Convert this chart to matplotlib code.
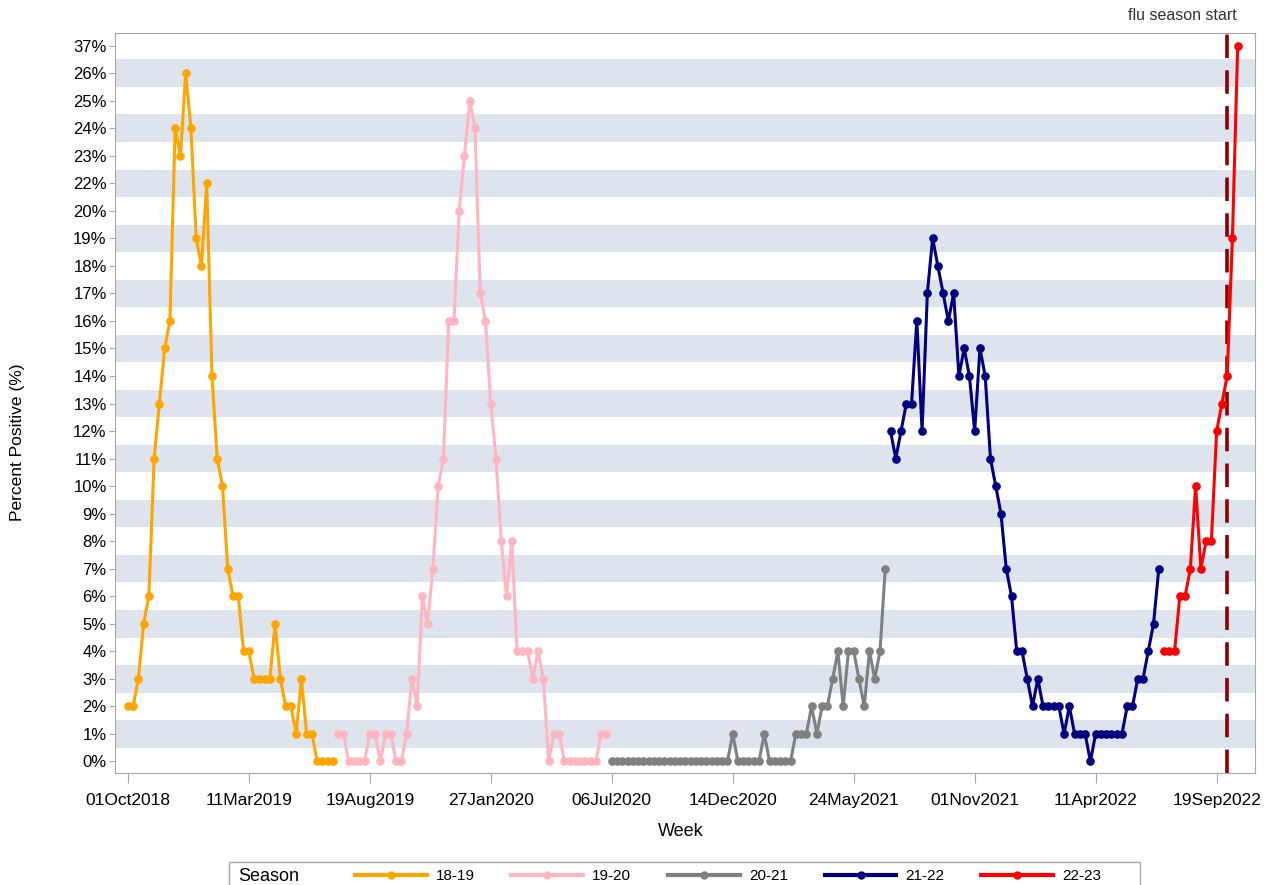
import numpy as np
import pandas as pd
import matplotlib
matplotlib.use("Agg")
import matplotlib.pyplot as plt
from matplotlib.lines import Line2D
from matplotlib.patches import Rectangle

plt.rcParams["font.family"] = ["Liberation Sans", "DejaVu Sans"]

# weekly percent positive per season; week 0 = Monday 01Oct2018
FIRST_MONDAY = "2018-10-01"
SEASONS = ["18-19", "19-20", "20-21", "21-22", "22-23"]
SEASON_COLORS = ["#FFA500", "#FFB6C1", "#808080", "#000080", "#FF0000"]
SEASON_START_WEEK = [0, 40, 92, 145, 197]

PCT_18_19 = [2, 2, 3, 5, 6, 11, 13, 15, 16, 24, 23, 26, 24, 19, 18, 22, 14, 11, 10, 7,
             6, 6, 4, 4, 3, 3, 3, 3, 5, 3, 2, 2, 1, 3, 1, 1, 0, 0, 0, 0]
PCT_19_20 = [1, 1, 0, 0, 0, 0, 1, 1, 0, 1, 1, 0, 0, 1, 3, 2, 6, 5, 7, 10,
             11, 16, 16, 20, 23, 25, 24, 17, 16, 13, 11, 8, 6, 8, 4, 4, 4, 3, 4, 3,
             0, 1, 1, 0, 0, 0, 0, 0, 0, 0, 1, 1]
PCT_20_21 = [0] * 23 + [1, 0, 0, 0, 0, 0, 1, 0, 0, 0, 0, 0,
             1, 1, 1, 2, 1, 2, 2, 3, 4, 2, 4, 4, 3, 2, 4, 3, 4, 7]
PCT_21_22 = [12, 11, 12, 13, 13, 16, 12, 17, 19, 18, 17, 16, 17, 14, 15, 14, 12, 15, 14, 11,
             10, 9, 7, 6, 4, 4, 3, 2, 3, 2, 2, 2, 2, 1, 2, 1, 1, 1, 0, 1,
             1, 1, 1, 1, 1, 2, 2, 3, 3, 4, 5, 7]
PCT_22_23 = [4, 4, 4, 6, 6, 7, 10, 7, 8, 8, 12, 13, 14, 19, 37]

X_TICK_LABELS = ["01Oct2018", "11Mar2019", "19Aug2019", "27Jan2020", "06Jul2020",
                 "14Dec2020", "24May2021", "01Nov2021", "11Apr2022", "19Sep2022"]
FLU_SEASON_START = "2022-10-03"

BAND = "#dde4ee"
FRAME = "#a8a8a8"

series = [PCT_18_19, PCT_19_20, PCT_20_21, PCT_21_22, PCT_22_23]

# discrete y axis: only the observed percentages get a slot
levels = sorted(set(v for s in series for v in s))
lv = np.array([levels[0] - 1] + levels + [levels[-1] + 1], float)
pos = np.arange(-1, len(levels) + 1, dtype=float)
fwd = lambda v: np.interp(v, lv, pos)
inv = lambda p: np.interp(p, pos, lv)

fig = plt.figure(figsize=(12.67, 8.85), dpi=100)
ax = fig.add_axes([0.0908, 0.126, 0.8997, 0.837])
ax.set_yscale("function", functions=(fwd, inv))

for i in range(1, len(levels), 2):
    ax.axhspan(inv(i - 0.5), inv(i + 0.5), color=BAND, lw=0, zorder=0)

t0 = pd.Timestamp(FIRST_MONDAY)
handles = []
for vals, start, color, name in zip(series, SEASON_START_WEEK, SEASON_COLORS, SEASONS):
    weeks = t0 + pd.to_timedelta(7 * (start + np.arange(len(vals))), unit="D")
    ax.plot(weeks, vals, color=color, lw=2.2, marker="o", ms=5.2, zorder=3)
    handles.append(Line2D([], [], color=color, lw=3, marker="o", ms=5))

ax.axvline(pd.Timestamp(FLU_SEASON_START), color="#8B0000", lw=2.6, dashes=(6.5, 3.4), zorder=2)

ax.set_ylim(inv(-0.44), inv(len(levels) - 0.53))
ax.set_yticks(levels)
ax.set_yticklabels([f"{v}%" for v in levels])
ax.set_xlim(t0 - pd.Timedelta(days=17), t0 + pd.Timedelta(days=1500))
ax.set_xticks(pd.to_datetime(X_TICK_LABELS, format="%d%b%Y"))
ax.set_xticklabels(X_TICK_LABELS)
ax.tick_params(axis="y", labelsize=12, length=4, color=FRAME, pad=2)
ax.tick_params(axis="x", labelsize=12.5, length=7, color=FRAME, pad=7)
for sp in ax.spines.values():
    sp.set_color(FRAME)

fig.text(0.014, 0.50, "Percent Positive (%)", rotation=90, ha="center", va="center", fontsize=12.5)
fig.text(0.537, 0.060, "Week", ha="center", va="center", fontsize=13)
fig.text(0.976, 0.982, "flu season start", ha="right", va="center", fontsize=11.5, color="#333333")

# legend row at the bottom, cut by the figure edge like the original
fig.add_artist(Rectangle((0.1807, -0.05), 0.719, 0.076, transform=fig.transFigure,
                         facecolor="white", edgecolor=FRAME, lw=1))
fig.text(0.188, 0.010, "Season", ha="left", va="center", fontsize=13)
fig.legend(handles, SEASONS, loc="center left", bbox_to_anchor=(0.280, 0.010), ncol=5,
           frameon=False, fontsize=11, handlelength=4.7, handletextpad=0.6,
           columnspacing=2.4, borderpad=0, borderaxespad=0)

fig.savefig("out.png", dpi=100)
